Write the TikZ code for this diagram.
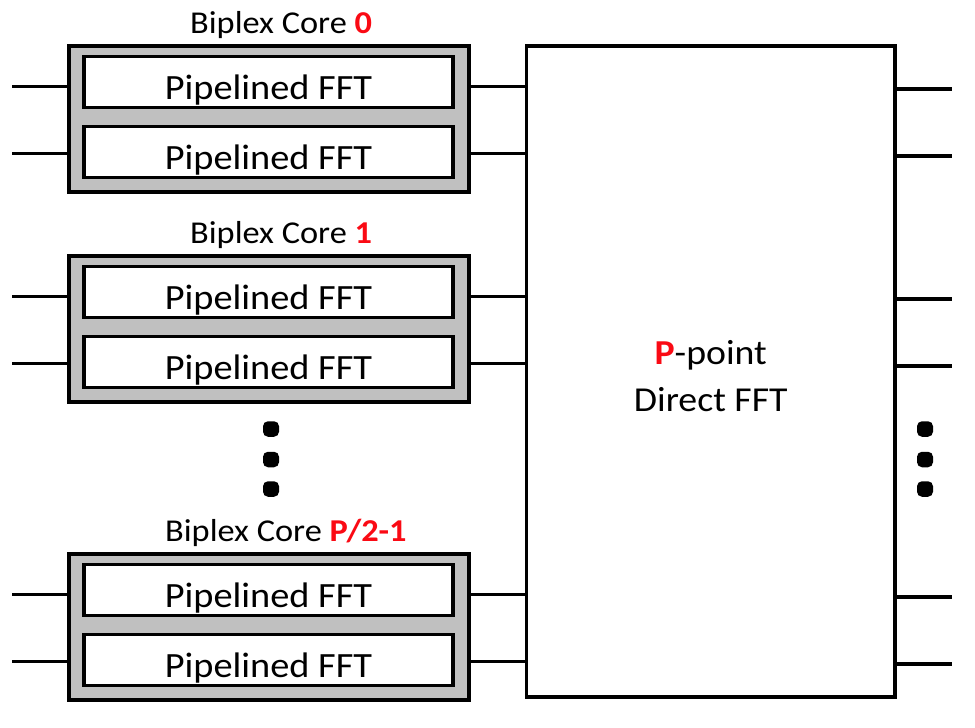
\documentclass[tikz,border=0pt]{standalone}
\usepackage{fontspec}
\setmainfont{Carlito}[FakeStretch=1.08]
\usetikzlibrary{shadows}
\definecolor{corefill}{RGB}{192,192,192}
\definecolor{corered}{RGB}{250,10,20}
\begin{document}
\begin{tikzpicture}[x=1pt,y=-1pt,
  shad/.style={drop shadow={opacity=0.3, shadow xshift=1.5pt, shadow yshift=-1.5pt}},
  core/.style={draw, line width=3.8pt, fill=corefill, minimum width=400pt, minimum height=146pt, inner sep=0pt, shad},
  fft/.style={draw, line width=3.8pt, fill=white, minimum width=369pt, minimum height=51pt, inner sep=0pt, text height=40pt, text depth=6pt, font=\fontsize{35.5}{41}\selectfont, shad},
  big/.style={draw, line width=3.6pt, fill=white, minimum width=368.5pt, minimum height=651pt, inner sep=0pt, shad},
  wire/.style={line width=3.2pt},
  dotmark/.style={fill=black, rounded corners=5pt, minimum width=16pt, minimum height=15.5pt, inner sep=0pt},
  lbl/.style={anchor=base west, inner sep=0pt, font=\fontsize{31.8}{36}\selectfont},
  bigtxt/.style={anchor=base, inner sep=0pt, font=\fontsize{35}{40}\selectfont}
]
\useasboundingbox (0,0) rectangle (975,728);

% big direct FFT block
\node[big] (big) at (710.75, 371.2) {};
\node[bigtxt] (pline) at (710.75, 364.3) {{\bfseries\color{corered}P}-point};
\node[bigtxt] (dline) at (710.75, 411) {Direct FFT};

% biplex cores
\foreach \i/\dy/\lx/\num in {0/0/190/0, 1/210/190/1, 2/508/165/{P/2-1}} {
  \node[core] (c\i) at (269, 119+\dy) {};
  \node[fft] (fa\i) at (268.5, 82+\dy) {Pipelined FFT};
  \node[fft] (fb\i) at (268.5, 152+\dy) {Pipelined FFT};
  \node[lbl] (l\i) at (\lx, 33.4+\dy) {Biplex Core {\bfseries\color{corered}\num}};
  \coordinate (ia\i) at (12, 86.5+\dy);
  \coordinate (ib\i) at (12, 153.5+\dy);
  \draw[wire] (ia\i) -- (ia\i -| c\i.west);
  \draw[wire] (ib\i) -- (ib\i -| c\i.west);
  \draw[wire] (ia\i -| c\i.east) -- (ia\i -| big.west);
  \draw[wire] (ib\i -| c\i.east) -- (ib\i -| big.west);
  \coordinate (oa\i) at (952, 89+\dy);
  \coordinate (ob\i) at (952, 156+\dy);
  \draw[wire] (oa\i -| big.east) -- (oa\i);
  \draw[wire] (ob\i -| big.east) -- (ob\i);
}

% ellipsis dots
\foreach \k/\yy in {1/429, 2/459.5, 3/489} {
  \node[dotmark] (ld\k) at (271, \yy) {};
  \node[dotmark] (rd\k) at (925, \yy) {};
}
\end{tikzpicture}
\end{document}
